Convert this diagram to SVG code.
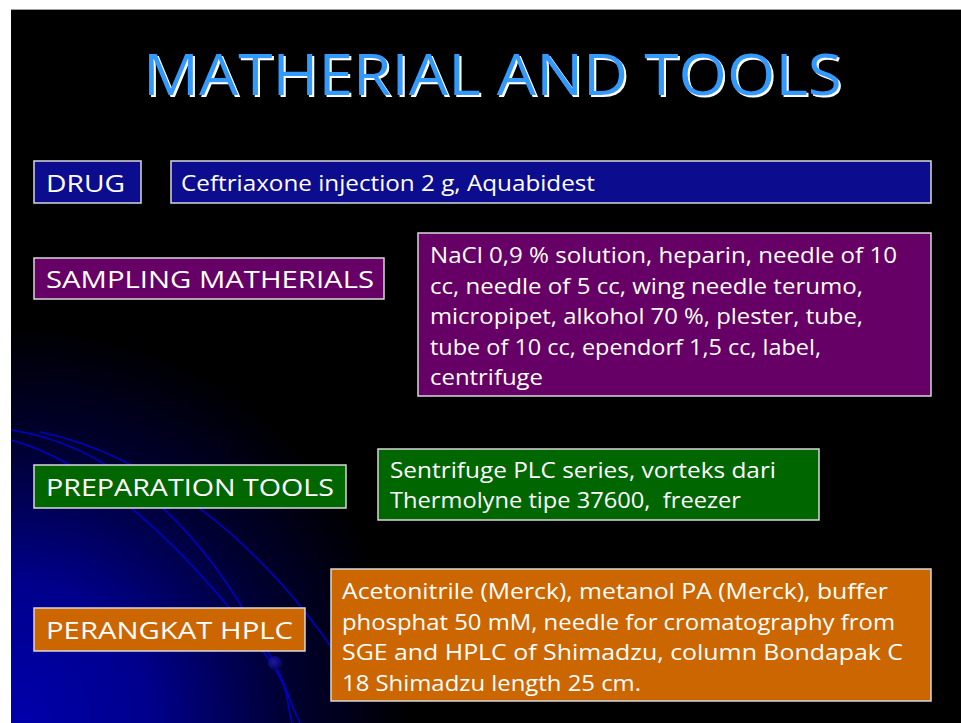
<svg xmlns="http://www.w3.org/2000/svg" width="961" height="723" viewBox="0 0 961 723">
<defs>
<style>
.lbl{font-family:"Open Sans","Liberation Sans",sans-serif;font-size:24px;fill:#FFFFFF}
.txt{font-family:"Open Sans","Liberation Sans",sans-serif;font-size:22px;fill:#FFFFFF}
.box{stroke:#D8D8D8;stroke-width:1.5}
.arc{fill:none;stroke:#0000C8;stroke-width:1.6}
.title{font-family:"Open Sans","Liberation Sans",sans-serif;font-size:56px;fill:#3399FF}
</style>
<filter id="shadow" x="-5%" y="-20%" width="110%" height="140%">
<feFlood flood-color="#FFFFFF" result="w"/>
<feComposite in="w" in2="SourceAlpha" operator="in" result="ws"/>
<feOffset in="ws" dx="1.6" dy="1.6" result="off"/>
<feMerge><feMergeNode in="off"/><feMergeNode in="SourceGraphic"/></feMerge>
</filter>
<radialGradient id="glow" cx="11" cy="723" r="400" gradientUnits="userSpaceOnUse">
<stop offset="0" stop-color="#0000AC"/>
<stop offset="0.35" stop-color="#00008C"/>
<stop offset="0.7" stop-color="#000030"/>
<stop offset="1" stop-color="#000000"/>
</radialGradient>
<radialGradient id="ball" cx="0.4" cy="0.4" r="0.6">
<stop offset="0" stop-color="#1A1AA0"/>
<stop offset="1" stop-color="#050560"/>
</radialGradient>
</defs>
<rect x="0" y="0" width="961" height="723" fill="#FFFFFF"/>
<rect x="11" y="10" width="950" height="713" fill="#000000"/>
<line x1="11" y1="9.5" x2="961" y2="9.5" stroke="#A0A0A0" stroke-width="1"/>
<rect x="11" y="10" width="950" height="713" fill="url(#glow)"/>
<g id="background-arcs">
<path class="arc" d="M 11 440 C 90 462, 170 535, 235 615 S 282 690, 292 723"/>
<path class="arc" d="M 11 430 C 110 445, 190 520, 245 612 S 280 685, 300 723"/>
<path class="arc" d="M 40 432 C 150 455, 260 540, 340 660"/>
<circle cx="275" cy="663" r="7" fill="url(#ball)"/>
</g>
<g id="title">
<text class="title" x="143" y="95" filter="url(#shadow)" textLength="699" lengthAdjust="spacingAndGlyphs">MATHERIAL AND TOOLS</text>
</g>
<g id="connectors"></g>
<g id="drug">
<rect class="box" x="34" y="161" width="107" height="42" fill="#0C0C8E"/>
<text class="lbl" x="46" y="192" textLength="79" lengthAdjust="spacingAndGlyphs">DRUG</text>
</g>
<g id="drug-detail">
<rect class="box" x="171" y="161" width="760" height="42" fill="#0C0C8E"/>
<text class="txt" x="181" y="191" textLength="414" lengthAdjust="spacingAndGlyphs">Ceftriaxone injection 2 g, Aquabidest</text>
</g>
<g id="sampling">
<rect class="box" x="34" y="258" width="350" height="41" fill="#660066"/>
<text class="lbl" x="46" y="288" textLength="328" lengthAdjust="spacingAndGlyphs">SAMPLING MATHERIALS</text>
</g>
<g id="sampling-detail">
<rect class="box" x="418" y="233" width="513" height="163" fill="#660066"/>
<text class="txt" x="430" y="263" textLength="467" lengthAdjust="spacingAndGlyphs">NaCl 0,9 % solution, heparin, needle of 10</text>
<text class="txt" x="430" y="293.5" textLength="433" lengthAdjust="spacingAndGlyphs">cc, needle of 5 cc, wing needle terumo,</text>
<text class="txt" x="430" y="324" textLength="433" lengthAdjust="spacingAndGlyphs">micropipet, alkohol 70 %, plester, tube,</text>
<text class="txt" x="430" y="354.5" textLength="391" lengthAdjust="spacingAndGlyphs">tube of 10 cc, ependorf 1,5 cc, label,</text>
<text class="txt" x="430" y="385" textLength="113" lengthAdjust="spacingAndGlyphs">centrifuge</text>
</g>
<g id="preparation">
<rect class="box" x="34" y="465" width="312" height="43" fill="#006600"/>
<text class="lbl" x="46" y="496" textLength="288" lengthAdjust="spacingAndGlyphs">PREPARATION TOOLS</text>
</g>
<g id="preparation-detail">
<rect class="box" x="378" y="449" width="441" height="71" fill="#006600"/>
<text class="txt" x="390" y="478" textLength="386" lengthAdjust="spacingAndGlyphs">Sentrifuge PLC series, vorteks dari</text>
<text class="txt" x="390" y="508" textLength="351" lengthAdjust="spacingAndGlyphs" xml:space="preserve">Thermolyne tipe 37600,  freezer</text>
</g>
<g id="hplc">
<rect class="box" x="34" y="608" width="271" height="43" fill="#CC6600"/>
<text class="lbl" x="46" y="639" textLength="247" lengthAdjust="spacingAndGlyphs">PERANGKAT HPLC</text>
</g>
<g id="hplc-detail">
<rect class="box" x="331" y="569" width="600" height="132" fill="#CC6600"/>
<text class="txt" x="342" y="599" textLength="546" lengthAdjust="spacingAndGlyphs">Acetonitrile (Merck), metanol PA (Merck), buffer</text>
<text class="txt" x="342" y="629.5" textLength="553" lengthAdjust="spacingAndGlyphs">phosphat 50 mM, needle for cromatography from</text>
<text class="txt" x="342" y="660" textLength="561" lengthAdjust="spacingAndGlyphs">SGE and HPLC of Shimadzu, column Bondapak C</text>
<text class="txt" x="342" y="690.5" textLength="299" lengthAdjust="spacingAndGlyphs">18 Shimadzu length 25 cm.</text>
</g>
</svg>
